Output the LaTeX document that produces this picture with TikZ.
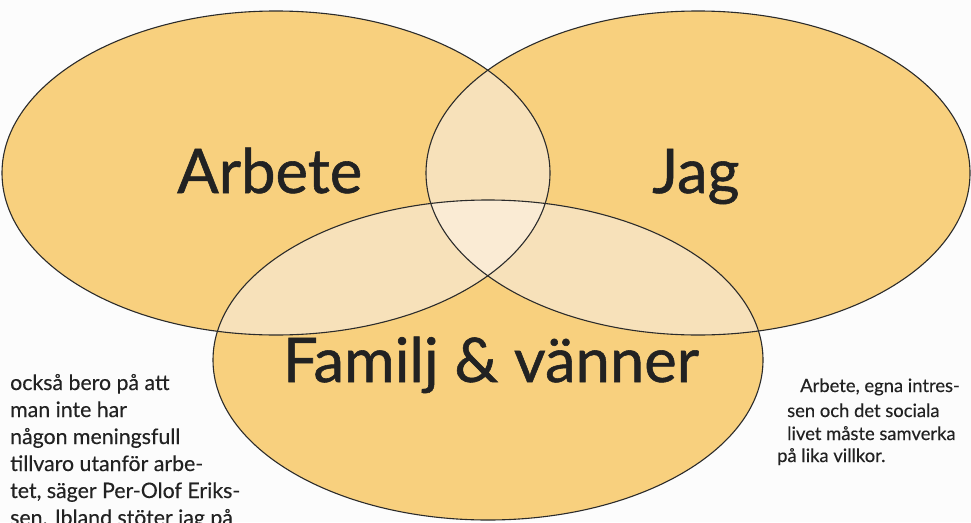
\documentclass[tikz,border=0pt]{standalone}
\usepackage{fontspec}
\setmainfont{Lato}
\newfontfamily\labelface[FakeBold=0.9]{Lato}
\newfontfamily\textface[FakeBold=0.3]{Lato}
\definecolor{paper}{HTML}{FCFCFC}
\definecolor{petal}{HTML}{F8D07E}
\definecolor{pairlap}{HTML}{F7E1BA}
\definecolor{triplap}{HTML}{FAEBD4}
\definecolor{rim}{HTML}{2B2B2B}
\definecolor{ink}{HTML}{222222}
\tikzset{
  bigword/.style={inner sep=0pt, text=ink, font=\labelface\fontsize{61.5}{72}\selectfont, anchor=base west},
  bodyline/.style={inner sep=0pt, text=ink, font=\textface\fontsize{21.3}{27}\selectfont, anchor=base west},
  sideline/.style={inner sep=0pt, text=ink, font=\textface\fontsize{18.4}{23}\selectfont, anchor=base west},
  rimline/.style={draw=rim, line width=1.1pt}
}
\begin{document}
\begin{tikzpicture}[x=1pt,y=-1pt]
\useasboundingbox (0,0) rectangle (971,522);
\clip (0,0) rectangle (971,522);
\fill[paper] (0,0) rectangle (971,522);

% the three sets
\def\workset{(276,173) ellipse [x radius=274pt, y radius=162pt]}
\def\selfset{(698,173) ellipse [x radius=272pt, y radius=162pt]}
\def\homeset{(488,360) ellipse [x radius=275pt, y radius=160pt]}

\fill[petal] \workset;
\fill[petal] \selfset;
\fill[petal] \homeset;

% pairwise overlaps
\begin{scope}
  \clip \workset;
  \fill[pairlap] \selfset;
  \fill[pairlap] \homeset;
\end{scope}
\begin{scope}
  \clip \selfset;
  \fill[pairlap] \homeset;
\end{scope}
% common centre
\begin{scope}
  \clip \workset;
  \clip \selfset;
  \fill[triplap] \homeset;
\end{scope}

\draw[rimline] \workset;
\draw[rimline] \selfset;
\draw[rimline] \homeset;

% set labels
\node[bigword] (arbete) at (177,193) {Arbete};
\node[bigword] (jag) at (652,193) {Jag};
\node[bigword, anchor=base] (familj) at (491,382) {Familj \& vänner};

% running text, left column
\node[bodyline] (l1) at (10,390) {också bero på att};
\node[bodyline] (l2) at (10,417) {man inte har};
\node[bodyline] (l3) at (10,444) {någon meningsfull};
\node[bodyline] (l4) at (10,471) {tillvaro utanför arbe-};
\node[bodyline] (l5) at (10,498) {tet, säger Per-Olof Eriks-};
\node[bodyline] (l6) at (10,525) {sen. Ibland stöter jag på};

% caption, right
\node[sideline] (r1) at (800,392) {Arbete, egna intres-};
\node[sideline] (r2) at (787,417) {sen och det sociala};
\node[sideline] (r3) at (787,440) {livet måste samverka};
\node[sideline] (r4) at (777,462) {på lika villkor.};
\end{tikzpicture}
\end{document}
